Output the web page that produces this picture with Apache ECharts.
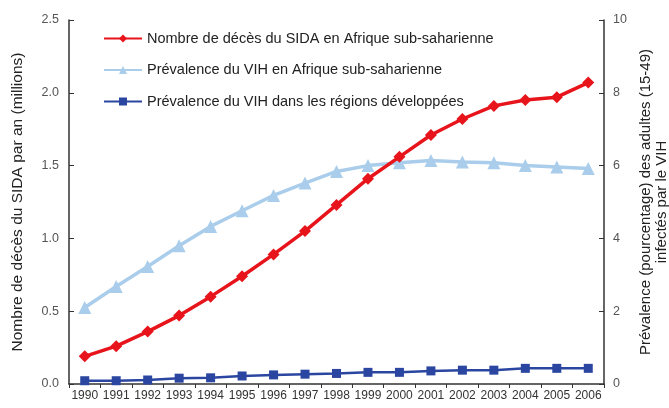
<!DOCTYPE html>
<html>
<head>
<meta charset="utf-8">
<script src="https://cdn.jsdelivr.net/npm/echarts@6/dist/echarts.min.js"></script>
<style>
    html, body { margin: 0; padding: 0; background: #fff; }
    #chart { width: 669px; height: 408px; }
</style>
</head>
<body>
<div id="chart"></div>
<script>
// Years on the x axis
const years = ["1990", "1991", "1992", "1993", "1994", "1995", "1996", "1997", "1998",
    "1999", "2000", "2001", "2002", "2003", "2004", "2005", "2006"];

// AIDS deaths in sub-Saharan Africa (millions per year, left axis)
const deathsSSA = [0.19, 0.26, 0.36, 0.47, 0.60, 0.74, 0.89, 1.05, 1.23,
    1.41, 1.56, 1.71, 1.82, 1.91, 1.95, 1.97, 2.07];

// HIV prevalence in sub-Saharan Africa (% adults 15-49, right axis)
const prevSSA = [2.1, 2.68, 3.23, 3.8, 4.33, 4.76, 5.18, 5.52, 5.84,
    6.0, 6.08, 6.14, 6.1, 6.08, 6.0, 5.96, 5.92];

// HIV prevalence in developed regions (% adults 15-49, right axis)
const prevDeveloped = [0.09, 0.09, 0.11, 0.16, 0.17, 0.22, 0.25, 0.27, 0.29,
    0.32, 0.32, 0.36, 0.38, 0.38, 0.43, 0.43, 0.43];

const leftTicks = { min: 0, max: 2.5, interval: 0.5 };
const rightTicks = { min: 0, max: 10, interval: 2 };

const FONT = "Liberation Sans, Arial, sans-serif";
const AXIS_COLOR = "#333";

const chart = echarts.init(document.getElementById("chart"));

chart.setOption({
    backgroundColor: "#fff",
    animation: false,
    textStyle: { fontFamily: FONT },
    grid: { left: 69, right: 65, top: 20, bottom: 24, outerBoundsMode: "none", containLabel: false },
    legend: {
        orient: "vertical",
        left: 103,
        top: 31,
        padding: 0,
        itemWidth: 38,
        itemHeight: 10,
        itemGap: 16.5,
        textStyle: { fontSize: 14.5, color: "#222", fontFamily: FONT },
        data: [
            "Nombre de décès du SIDA en Afrique sub-saharienne",
            "Prévalence du VIH en Afrique sub-saharienne",
            "Prévalence du VIH dans les régions développées"
        ]
    },
    xAxis: {
        type: "category",
        data: years,
        boundaryGap: true,
        axisLine: { lineStyle: { color: AXIS_COLOR, width: 1.5 } },
        axisTick: { show: true, inside: false, length: 4, lineStyle: { color: AXIS_COLOR } },
        axisLabel: { fontSize: 12, color: "#333", margin: 6, interval: 0 }
    },
    yAxis: [
        {
            type: "value",
            position: "left",
            min: leftTicks.min,
            max: leftTicks.max,
            interval: leftTicks.interval,
            splitLine: { show: false },
            axisLine: { show: true, lineStyle: { color: AXIS_COLOR, width: 1.5 } },
            axisTick: { show: true, inside: true, length: 5, lineStyle: { color: AXIS_COLOR } },
            axisLabel: {
                fontSize: 12.5, color: "#555", margin: 10,
                formatter: v => v.toFixed(1)
            },
            name: "Nombre de décès du SIDA par an (millions)",
            nameLocation: "middle",
            nameRotate: 90,
            nameGap: 43,
            nameTextStyle: { fontSize: 15.5, color: "#222", fontFamily: FONT }
        },
        {
            type: "value",
            position: "right",
            min: rightTicks.min,
            max: rightTicks.max,
            interval: rightTicks.interval,
            splitLine: { show: false },
            axisLine: { show: true, lineStyle: { color: AXIS_COLOR, width: 1.5 } },
            axisTick: { show: true, inside: true, length: 5, lineStyle: { color: AXIS_COLOR } },
            axisLabel: { fontSize: 12.5, color: "#555", margin: 9 },
            name: "Prévalence (pourcentage) des adultes (15-49)\ninfectés par le VIH",
            nameLocation: "middle",
            nameRotate: 90,
            nameGap: 33,
            nameTextStyle: { fontSize: 15, color: "#222", fontFamily: FONT, lineHeight: 16 }
        }
    ],
    series: [
        {
            name: "Nombre de décès du SIDA en Afrique sub-saharienne",
            type: "line",
            yAxisIndex: 0,
            data: deathsSSA,
            symbol: "diamond",
            symbolSize: 12,
            z: 3,
            lineStyle: { color: "#e8141b", width: 3.5 },
            itemStyle: { color: "#e8141b" }
        },
        {
            name: "Prévalence du VIH en Afrique sub-saharienne",
            type: "line",
            yAxisIndex: 1,
            data: prevSSA,
            symbol: "triangle",
            symbolSize: 13,
            z: 2,
            lineStyle: { color: "#a9cdea", width: 3.5 },
            itemStyle: { color: "#a9cdea" }
        },
        {
            name: "Prévalence du VIH dans les régions développées",
            type: "line",
            yAxisIndex: 1,
            data: prevDeveloped,
            symbol: "rect",
            symbolSize: 9,
            z: 2,
            lineStyle: { color: "#2b46a0", width: 2.5 },
            itemStyle: { color: "#2b46a0" }
        }
    ]
});
</script>
</body>
</html>
